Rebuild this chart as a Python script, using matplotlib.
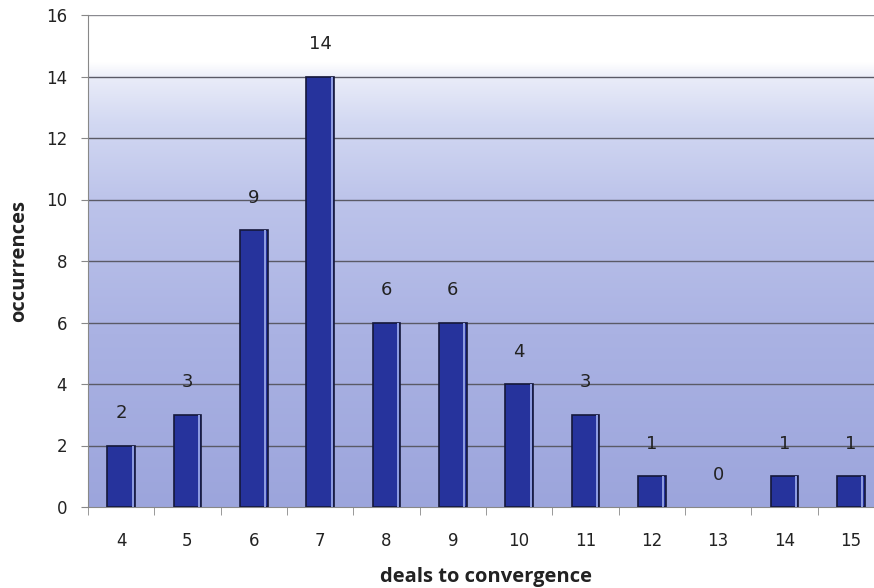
import matplotlib.pyplot as plt
import numpy as np
from matplotlib.colors import LinearSegmentedColormap

deals = ["4", "5", "6", "7", "8", "9", "10", "11", "12", "13", "14", "15"]
occurrences = [2, 3, 9, 14, 6, 6, 4, 3, 1, 0, 1, 1]
y_ticks = [0, 2, 4, 6, 8, 10, 12, 14, 16]

fig = plt.figure(figsize=(8.74, 5.88), dpi=100)
ax = fig.add_axes([88 / 874, (588 - 507) / 588, 796 / 874, 492 / 588])

x = np.arange(len(deals))
ax.set_xlim(-0.5, len(deals) - 0.5)
ax.set_ylim(0, 16)

# background wash: white at the top fading to lavender blue at the bottom
bg = LinearSegmentedColormap.from_list(
    "wash",
    [(0.0, "#9ca5dc"), (0.35, "#aab2e3"), (0.62, "#bcc3ea"),
     (0.78, "#d2d8f2"), (0.87, "#e8ebf8"), (0.905, "#ffffff"), (1.0, "#ffffff")])
grad = np.linspace(0, 1, 256).reshape(-1, 1)
ax.imshow(grad, cmap=bg, origin="lower", aspect="auto",
          extent=(-0.5, len(deals) - 0.5, 0, 16), zorder=0)

for yv in y_ticks[1:]:
    ax.axhline(yv, color="#5a5a66" if yv < 16 else "#8a8a90", lw=1.0, zorder=1)

width = 0.42
edges = ["#15183a" if v > 0 else "none" for v in occurrences]
ax.bar(x, occurrences, width=width, color="#26339c", edgecolor=edges,
       linewidth=1.2, zorder=3)
# thin light strip along the right side of each bar
ax.bar(x + width / 2 - 0.035, occurrences, width=0.03, color="#8d9be0",
       linewidth=0, zorder=4)

for xi, v in zip(x, occurrences):
    ax.text(xi, v + 1.05, str(v), ha="center", va="center",
            fontsize=13, color="#222222", zorder=5)

ax.set_yticks(y_ticks)
ax.set_yticklabels([str(t) for t in y_ticks], fontsize=12, color="#222222")
ax.set_xticks(x)
ax.set_xticklabels(deals, fontsize=12, color="#222222")
ax.tick_params(axis="x", length=0, pad=18)
ax.tick_params(axis="y", length=5, color="#888888", pad=10)

# category boundary ticks below the x axis
ax.set_xticks(np.arange(len(deals)) - 0.5, minor=True)
ax.tick_params(axis="x", which="minor", length=6, color="#888888")

for side in ["top", "right"]:
    ax.spines[side].set_visible(False)
ax.spines["left"].set_color("#888888")
ax.spines["bottom"].set_color("#888888")

ax.set_xlabel("deals to convergence", fontsize=14.5, fontweight="bold",
              family="Open Sans", labelpad=12, color="#222222")
ax.set_ylabel("occurrences", fontsize=14.5, fontweight="bold",
              family="Open Sans", labelpad=12, color="#222222")

fig.savefig("out.png", dpi=100)
